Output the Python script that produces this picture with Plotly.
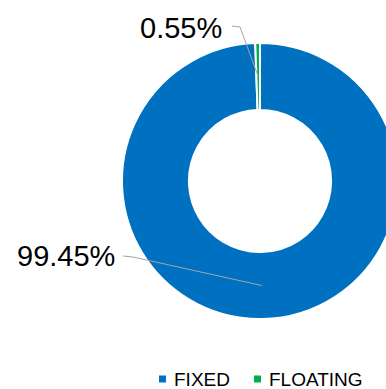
import math
import plotly.graph_objects as go

# Share of the portfolio by rate type
categories = ["FIXED", "FLOATING"]
shares = [99.45, 0.55]
colors = ["#0070C0", "#00B050"]
value_labels = [f"{v:.2f}%" for v in shares]

W, H = 520, 389
CX, CY, R = 260, 181, 138
HOLE = 0.515
FONT = "Liberation Sans, Arial, sans-serif"


def px(x):
    return x / W


def py(y):
    return 1 - y / H


fig = go.Figure(
    go.Pie(
        labels=categories,
        values=shares,
        hole=HOLE,
        sort=False,
        direction="clockwise",
        rotation=0,
        marker=dict(colors=colors, line=dict(color="white", width=2)),
        textinfo="none",
        showlegend=False,
        domain=dict(x=[0, 1], y=[py(CY + R), py(CY - R)]),
    )
)

# Leader-line anchors: middle of the ring at each slice's mid-angle
total = sum(shares)
r_mid = R * (1 + HOLE) / 2
anchors = []
cum = 0.0
for v in shares:
    theta = math.radians((cum + v / 2) / total * 360)
    anchors.append((CX + r_mid * math.sin(theta), CY - r_mid * math.cos(theta)))
    cum += v

# Label placement: (text right edge, text middle y, line start, elbow)
label_pos = [
    (117, 256, (123, 256), (133, 257)),  # FIXED
    (224, 28, (232, 26), (240, 27)),     # FLOATING
]

shapes = []
annotations = []
for text, (ax, ay), (tx, ty, s, e) in zip(value_labels, anchors, label_pos):
    path = (
        f"M {px(s[0])},{py(s[1])} L {px(e[0])},{py(e[1])} L {px(ax)},{py(ay)}"
    )
    shapes.append(dict(type="path", xref="paper", yref="paper", path=path,
                       line=dict(color="#A6A6A6", width=1)))
    annotations.append(dict(x=px(tx), y=py(ty), xref="paper", yref="paper",
                            text=text, showarrow=False, xanchor="right",
                            yanchor="middle",
                            font=dict(family=FONT, size=29, color="#000000")))

# Legend drawn as small squares with captions
legend_items = [(159, 172), (254, 267)]
for name, col, (sx, tx) in zip(categories, colors, legend_items):
    shapes.append(dict(type="rect", xref="paper", yref="paper",
                       x0=px(sx), x1=px(sx + 7), y0=py(382.5), y1=py(375.5),
                       fillcolor=col, line=dict(width=0)))
    annotations.append(dict(x=px(tx), y=py(379), xref="paper", yref="paper",
                            text=name, showarrow=False, xanchor="left",
                            yanchor="middle",
                            font=dict(family=FONT, size=19, color="#000000")))

fig.update_layout(
    width=W,
    height=H,
    margin=dict(l=0, r=0, t=0, b=0),
    paper_bgcolor="white",
    plot_bgcolor="white",
    shapes=shapes,
    annotations=annotations,
)

fig.write_html(
    "out.html",
    post_script=(
        "document.documentElement.style.overflow='hidden';"
        "document.body.style.overflow='hidden';"
    ),
)
